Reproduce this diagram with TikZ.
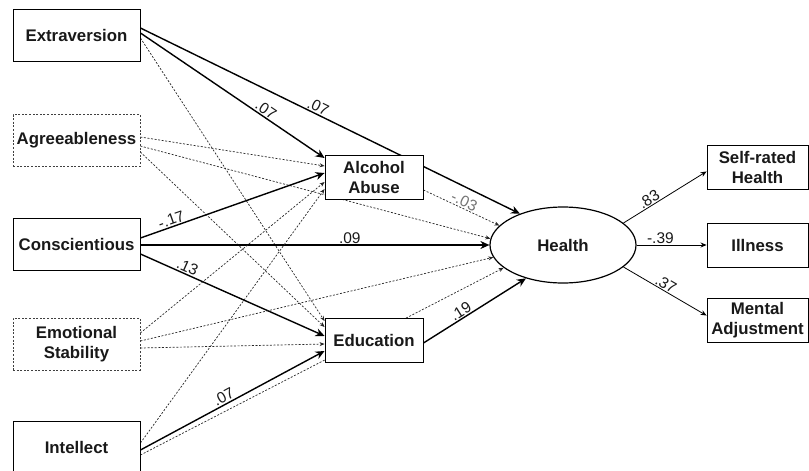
\documentclass[tikz,border=0pt]{standalone}
\usepackage{fontspec}
\setmainfont{Liberation Sans}
\usetikzlibrary{backgrounds,calc,arrows.meta,shapes.geometric}

\begin{document}
\begin{tikzpicture}[x=1pt,y=-1pt]
      \tikzstyle{every node} = [font=\fontsize{16.8}{20}\selectfont\bfseries, text=black!90]
      \tikzstyle{block} = [draw, rectangle, fill=white, line width=0.9pt, minimum height=52pt, minimum width=127pt, align=center, inner sep=0pt]
      \tikzstyle{nsblock} = [block, draw=black!75, line width=0.65pt, dash pattern=on 2pt off 1.6pt]
      \tikzstyle{mediator} = [block, minimum height=44pt, minimum width=98pt]
      \tikzstyle{outcome} = [block, minimum height=44pt, minimum width=101pt]
      \tikzstyle{latent} = [draw, ellipse, fill=white, line width=1.2pt, minimum width=146pt, minimum height=76pt]
      \tikzstyle{sig} = [line width=1.4pt, -{Stealth[length=9pt,width=8pt]}]
      \tikzstyle{ns} = [line width=0.7pt, black!85, dash pattern=on 2pt off 1.6pt, -{Stealth[length=5pt,width=4pt]}]
      \tikzstyle{load} = [line width=0.8pt, -{Stealth[length=6pt,width=5pt]}]
      \tikzstyle{coef} = [font=\fontsize{15.5}{15.5}\selectfont, text=black!90, sloped, above, inner sep=1pt]
      \useasboundingbox (0,0) rectangle (809,471);
      % Predictors
      \node[block](extra) at (76.5,35){Extraversion};
      \node[nsblock](agree) at (76.5,140.5){Agreeableness};
      \node[block](consc) at (76.5,244){Conscientious};
      \node[nsblock](emo) at (76.5,344){Emotional\\Stability};
      \node[block](intel) at (76.5,447){Intellect};
      % Mediators and health
      \node[mediator](alc) at (374,177){Alcohol\\Abuse};
      \node[mediator](edu) at (374,340.5){Education};
      \node[latent](health) at (563,245){Health};
      \node[outcome](self) at (757.5,167){Self-rated\\Health};
      \node[outcome](ill) at (757.5,245){Illness};
      \node[outcome](ment) at (757.5,320){Mental\\Adjustment};
      % Connections
      \begin{pgfonlayer}{background}
        \draw[sig]
        ($(extra.east)+(0,-7)$) -- node[coef, pos=0.46]{.07} (health.144);
        \draw[sig]
        ($(extra.east)+(0,-2)$) -- node[coef, pos=0.66]{.07} ($(alc.west)+(0,-19)$);
        \draw[ns]
        ($(extra.east)+(0,3)$) -- ($(edu.west)+(0,-19.5)$);
        \draw[ns]
        ($(agree.east)+(0,-3.5)$) -- ($(alc.west)+(0,-11)$);
        \draw[ns]
        ($(agree.east)+(0,5.5)$) -- (health.175);
        \draw[ns]
        ($(agree.east)+(0,11.5)$) -- ($(edu.west)+(0,-13.5)$);
        \draw[sig]
        ($(consc.east)+(0,-6)$) -- node[coef, pos=0.18]{-.17} ($(alc.west)+(0,-4)$);
        \draw[sig]
        ($(consc.east)+(0,1)$) -- node[coef, pos=0.6]{.09} (health.west);
        \draw[sig]
        ($(consc.east)+(0,10)$) -- node[coef, pos=0.24]{.13} ($(edu.west)+(0,-4.5)$);
        \draw[ns]
        ($(emo.east)+(0,-11)$) -- ($(alc.west)+(0,5)$);
        \draw[ns]
        ($(emo.east)+(0,-3)$) -- (health.190);
        \draw[ns]
        ($(emo.east)+(0,4)$) -- ($(edu.west)+(0,3.5)$);
        \draw[ns]
        ($(intel.east)+(0,-4)$) -- ($(alc.west)+(0,12)$);
        \draw[sig]
        ($(intel.east)+(0,3)$) -- node[coef, pos=0.47]{.07} ($(edu.west)+(0,10.5)$);
        \draw[ns]
        ($(intel.east)+(0,8)$) -- (health.201);
        \draw[ns]
        ($(alc.east)+(0,13)$) -- node[coef, pos=0.5, text=black!55]{-.03} (health.163);
        \draw[sig]
        ($(edu.east)+(0,2.5)$) -- node[coef, pos=0.4]{.19} (health.222);
        \draw[load]
        (health.20) -- node[coef, pos=0.35]{.83} (self.185);
        \draw[load]
        (health.east) -- node[coef, pos=0.34]{-.39} (ill.west);
        \draw[load]
        (health.-20) -- node[coef, pos=0.47]{.37} (ment.175);
      \end{pgfonlayer}
\end{tikzpicture}
\end{document}
